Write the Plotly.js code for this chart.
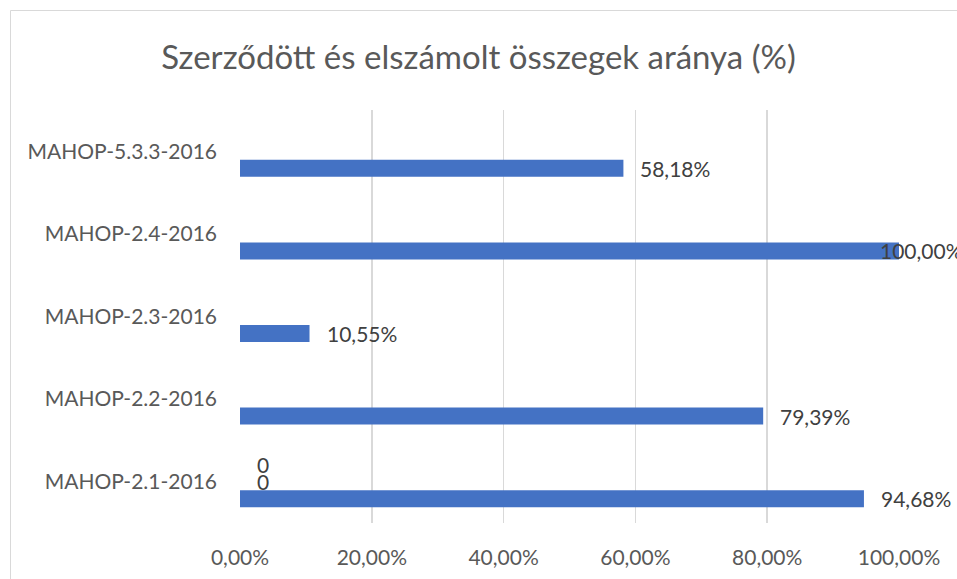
<!DOCTYPE html>
<html><head><meta charset="utf-8">
<script src="https://cdn.plot.ly/plotly-3.0.1.min.js"></script>
<style>html,body{margin:0;padding:0;background:#fff}#chart{width:957px;height:579px}</style>
</head><body><div id="chart"></div>
<script>
const categories = ['MAHOP-2.1-2016','MAHOP-2.2-2016','MAHOP-2.3-2016','MAHOP-2.4-2016','MAHOP-5.3.3-2016'];
const arany = [94.68, 79.39, 10.55, 100.00, 58.18];
const zeroSeriesA = [0, null, null, null, null];
const zeroSeriesB = [0, null, null, null, null];
const xTicks = [0, 20, 40, 60, 80, 100];
const xTickLabels = ['0,00%', '20,00%', '40,00%', '60,00%', '80,00%', '100,00%'];

const W = 957, H = 579;
const M = {l: 240, r: 58, t: 110, b: 56};
const bargap = 0.383;
const plotH = H - M.t - M.b;
const slotPx = plotH / categories.length;
const barPx = slotPx * (1 - bargap) / 3;

const fontFam = 'Lato, "Open Sans", sans-serif';
const series = [arany, zeroSeriesA, zeroSeriesB];
const traces = series.map((vals, i) => ({
  type: 'bar', orientation: 'h', y: categories, x: vals,
  marker: {color: '#4472c4'}, hoverinfo: 'skip', showlegend: false
}));

const annotations = [];
series.forEach((vals, i) => {
  vals.forEach((v, j) => {
    if (v === null) return;
    const isZero = v === 0;
    const label = isZero ? '0' : v.toFixed(2).replace('.', ',') + '%';
    let xs = 15;
    if (v >= 100) xs = -21;
    annotations.push({
      x: v, y: categories[j], xref: 'x', yref: 'y', text: label, showarrow: false,
      xanchor: 'left', yanchor: 'middle', xshift: xs, yshift: (i - 1) * barPx,
      font: {family: fontFam, size: 21, color: '#404040'}
    });
  });
});

const pxToPaperX = px => (px - M.l) / (W - M.l - M.r);
const pxToPaperY = py => (H - M.b - py) / plotH;

const layout = {
  width: W, height: H, margin: M,
  paper_bgcolor: '#fff', plot_bgcolor: '#fff',
  separators: ', ',
  barmode: 'group', bargap: bargap, bargroupgap: 0,
  title: {text: 'Szerződött és elszámolt összegek aránya (%)', x: 0.5, xref: 'container', xanchor: 'center', y: 1 - 57/H, yanchor: 'middle',
          font: {family: fontFam, size: 33, color: '#595959'}},
  xaxis: {range: [0, 100], tickvals: xTicks, ticktext: xTickLabels,
          showgrid: true, gridcolor: '#d9d9d9', gridwidth: 1.5, zeroline: false, showline: false,
          ticks: '', ticklabelstandoff: 20, tickfont: {family: fontFam, size: 21, color: '#595959'}, fixedrange: true},
  yaxis: {type: 'category', categoryorder: 'array', categoryarray: categories, showgrid: false, zeroline: false, showline: false,
          ticks: '', ticklabelstandoff: 22, tickfont: {family: fontFam, size: 21, color: '#595959'}, fixedrange: true},
  annotations: annotations,
  shapes: [{type: 'rect', xref: 'paper', yref: 'paper', x0: pxToPaperX(10.5), x1: pxToPaperX(W + 20), y0: pxToPaperY(H + 20), y1: pxToPaperY(10.5),
            line: {color: '#d9d9d9', width: 1}, fillcolor: 'rgba(0,0,0,0)', layer: 'below'}]
};
Plotly.newPlot('chart', traces, layout, {displayModeBar: false, staticPlot: true});
</script></body></html>
